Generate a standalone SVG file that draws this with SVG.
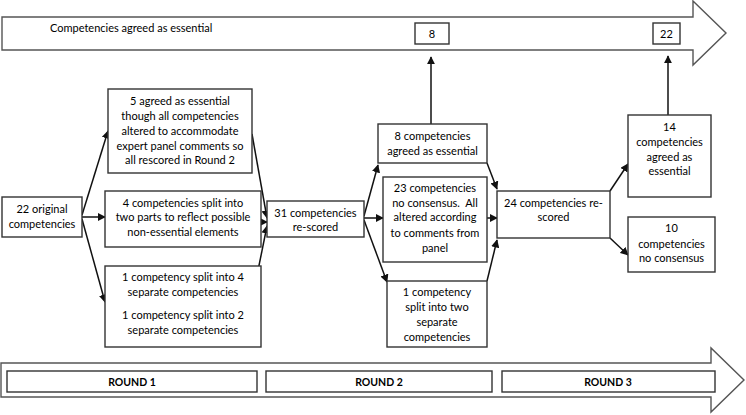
<svg xmlns="http://www.w3.org/2000/svg" width="746" height="415" viewBox="0 0 746 415">
<style>
.box{fill:#fff;stroke:#333;stroke-width:1.4}
.big{fill:#fff;stroke:#555;stroke-width:1.4}
.t{font-family:Lato,"Open Sans","DejaVu Sans",sans-serif;font-size:11px;fill:#000;text-anchor:middle}
.tl{font-family:Lato,"Open Sans","DejaVu Sans",sans-serif;font-size:11px;fill:#000}
.r{font-family:Lato,"Open Sans","DejaVu Sans",sans-serif;font-size:10.5px;font-weight:bold;fill:#000;text-anchor:middle}
.c{fill:none;stroke:#111;stroke-width:1.5;marker-end:url(#ah)}
</style>
<defs>
<marker id="ah" viewBox="0 0 10 10" refX="9" refY="5" markerWidth="5.5" markerHeight="5.5" orient="auto" markerUnits="strokeWidth">
<path d="M0,0 L10,5 L0,10 z" fill="#111"/>
</marker>
</defs>
<rect width="746" height="415" fill="#fff"/>
<g id="top-arrow">
<polygon class="big" points="2,17 693,17 693,1 726,33 693,65 693,50 2,50"/>
<text class="tl" x="50" y="32">Competencies agreed as essential</text>
<rect class="box" x="415" y="23" width="34" height="21"/>
<text class="t" x="432" y="37.5">8</text>
<rect class="box" x="653" y="23" width="27" height="21"/>
<text class="t" x="666.5" y="37.5">22</text>
</g>
<g id="bottom-arrow">
<polygon class="big" points="1,363 711,363 711,348 744,380 711,412 711,397 1,397"/>
<rect class="box" x="7" y="371" width="250" height="21"/>
<text class="r" x="132" y="385.5">ROUND 1</text>
<rect class="box" x="266" y="371" width="226" height="21"/>
<text class="r" x="379" y="385.5">ROUND 2</text>
<rect class="box" x="502" y="371" width="213" height="21"/>
<text class="r" x="608" y="385.5">ROUND 3</text>
</g>
<g id="connectors">
<line class="c" x1="82" y1="215" x2="108" y2="131"/>
<line class="c" x1="82" y1="217" x2="105" y2="217"/>
<line class="c" x1="82" y1="219" x2="105" y2="302"/>
<line class="c" x1="252" y1="134" x2="267" y2="218"/>
<line class="c" x1="261" y1="222" x2="267" y2="222"/>
<line class="c" x1="252" y1="300" x2="267" y2="226"/>
<line class="c" x1="364" y1="216" x2="378" y2="165"/>
<line class="c" x1="364" y1="218" x2="383" y2="218"/>
<line class="c" x1="364" y1="220" x2="387" y2="282"/>
<line class="c" x1="487" y1="163" x2="497" y2="189"/>
<line class="c" x1="487" y1="218" x2="497" y2="218"/>
<line class="c" x1="487" y1="281" x2="497" y2="240"/>
<line class="c" x1="610" y1="191" x2="628" y2="164"/>
<line class="c" x1="610" y1="238" x2="628" y2="255"/>
<line class="c" x1="431" y1="124" x2="431" y2="57"/>
<line class="c" x1="668" y1="115" x2="668" y2="56"/>
</g>
<g id="n22">
<rect class="box" x="2" y="197" width="80" height="40"/>
<text class="t" x="42" y="213">22 original</text>
<text class="t" x="42" y="228">competencies</text>
</g>
<g id="nA">
<rect class="box" x="108" y="89" width="144" height="84"/>
<text class="t" x="180" y="105">5 agreed as essential</text>
<text class="t" x="180" y="120">though all competencies</text>
<text class="t" x="180" y="135">altered to accommodate</text>
<text class="t" x="180" y="150">expert panel comments so</text>
<text class="t" x="180" y="164">all rescored in Round 2</text>
</g>
<g id="nB">
<rect class="box" x="105" y="191" width="156" height="56"/>
<text class="t" x="183" y="207">4 competencies split into</text>
<text class="t" x="183" y="221">two parts to reflect possible</text>
<text class="t" x="183" y="236">non-essential elements</text>
</g>
<g id="nC">
<rect class="box" x="105" y="266" width="156" height="81"/>
<text class="t" x="183" y="281">1 competency split into 4</text>
<text class="t" x="183" y="296">separate competencies</text>
<text class="t" x="183" y="319">1 competency split into 2</text>
<text class="t" x="183" y="334">separate competencies</text>
</g>
<g id="n31">
<rect class="box" x="267" y="201" width="97" height="36"/>
<text class="t" x="315.5" y="217">31 competencies</text>
<text class="t" x="315.5" y="231">re-scored</text>
</g>
<g id="n8">
<rect class="box" x="378" y="124" width="109" height="39"/>
<text class="t" x="432.5" y="140">8 competencies</text>
<text class="t" x="432.5" y="155">agreed as essential</text>
</g>
<g id="n23">
<rect class="box" x="383" y="177" width="104" height="85"/>
<text class="t" x="435" y="192">23 competencies</text>
<text class="t" x="435" y="207">no consensus.&#160; All</text>
<text class="t" x="435" y="221">altered according</text>
<text class="t" x="435" y="237">to comments from</text>
<text class="t" x="435" y="252">panel</text>
</g>
<g id="n1split">
<rect class="box" x="387" y="281" width="100" height="66"/>
<text class="t" x="437" y="296">1 competency</text>
<text class="t" x="437" y="311">split into two</text>
<text class="t" x="437" y="326">separate</text>
<text class="t" x="437" y="341">competencies</text>
</g>
<g id="n24">
<rect class="box" x="497" y="191" width="113" height="47"/>
<text class="t" x="553.5" y="207">24 competencies re-</text>
<text class="t" x="553.5" y="221">scored</text>
</g>
<g id="n14">
<rect class="box" x="628" y="115" width="83" height="82"/>
<text class="t" x="669.5" y="131">14</text>
<text class="t" x="669.5" y="146">competencies</text>
<text class="t" x="669.5" y="161">agreed as</text>
<text class="t" x="669.5" y="175">essential</text>
</g>
<g id="n10">
<rect class="box" x="628" y="217" width="87" height="55"/>
<text class="t" x="671.5" y="232">10</text>
<text class="t" x="671.5" y="248">competencies</text>
<text class="t" x="671.5" y="262">no consensus</text>
</g>
</svg>
